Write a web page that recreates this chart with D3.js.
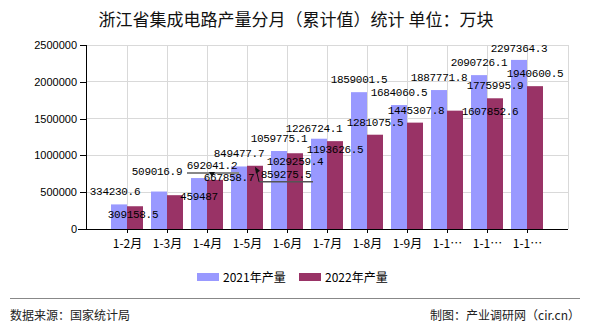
<!DOCTYPE html>
<html><head><meta charset="utf-8">
<script src="https://cdn.jsdelivr.net/npm/d3@7/dist/d3.min.js"></script>
<style>
html,body{margin:0;padding:0;background:#fff;}
svg{display:block;}
</style></head>
<body>
<svg id="chart" width="590" height="330"></svg>
<script>
// ---- data ----
const categories = ["1-2月","1-3月","1-4月","1-5月","1-6月","1-7月","1-8月","1-9月","1-10月","1-11月","1-12月"];
const seriesNames = ["2021年产量","2022年产量"];
const values2021 = [334230.6,509016.9,692041.2,849477.7,1059775.1,1226724.1,1859001.5,1684060.5,1887771.8,2090726.1,2297364.3];
const values2022 = [309158.5,459487,667858.7,859275.5,1029259.4,1193626.5,1281075.5,1445307.8,1607852.6,1775995.9,1940600.5];
const yTicks = [0,500000,1000000,1500000,2000000,2500000];

// ---- layout (label nudges in px, relative to default above-bar position) ----
const nudge2021 = [[-4,0],[-2,-8],[13,0],[0,0],[0,0],[-5,2],[0,0],[0,0],[0,0],[0,0],[0,1]];
const nudge2022 = [[-2,21],[24,14],[14,10],[31,21],[0,21],[0,21],[0,0],[1,0],[35,13],[0,0],[0,0]];
const colors = ["#9999ff","#993366"];

const svg = d3.select("#chart");
const pLeft = 86, pRight = 568, pTop = 45, pBottom = 229;

const x = d3.scalePoint().domain(categories).range([87, 567]).padding(1);
const sub = d3.scaleBand().domain(seriesNames).range([-16, 16]);
const y = d3.scaleLinear().domain([0, 2500000]).range([pBottom, pTop]);

// gridlines
const grid = svg.append("g").attr("stroke","#d9d9d9").attr("stroke-width",1).attr("shape-rendering","crispEdges");
grid.selectAll("line.h").data(yTicks.slice(1)).join("line")
  .attr("x1", pLeft).attr("x2", pRight).attr("y1", d=>y(d)).attr("y2", d=>y(d));
grid.selectAll("line.v").data(categories).join("line")
  .attr("x1", d=>x(d)).attr("x2", d=>x(d)).attr("y1", pTop).attr("y2", pBottom);
grid.append("line").attr("x1", pRight).attr("x2", pRight).attr("y1", pTop).attr("y2", pBottom);

// title
svg.append("text").attr("x",296).attr("y",26).attr("text-anchor","middle")
  .style("font-family","'Noto Sans CJK SC',sans-serif").style("font-size","17px").attr("fill","#111")
  .text("浙江省集成电路产量分月（累计值）统计 单位：万块");

// bars
const series = [values2021, values2022];
series.forEach((vals, si) => {
  svg.append("g").selectAll("rect").data(vals).join("rect")
    .attr("x", (d,i)=>x(categories[i]) + sub(seriesNames[si]))
    .attr("width", sub.bandwidth())
    .attr("y", d=>y(d))
    .attr("height", d=>pBottom - y(d))
    .attr("fill", colors[si]);
});

// axes
const yAxis = svg.append("g").attr("transform",`translate(${pLeft},0)`)
  .call(d3.axisLeft(y).tickValues(yTicks).tickFormat(d3.format("d")).tickSize(6).tickPadding(3));
yAxis.select(".domain").attr("d", `M0,${pTop}V${pBottom}`);
yAxis.selectAll("text").style("font-family","'Liberation Sans',Arial,sans-serif").style("font-size","11px").attr("fill","#000");
yAxis.selectAll("line,path").attr("stroke","#000").attr("shape-rendering","crispEdges");

const xAxis = svg.append("g").attr("transform",`translate(0,${pBottom})`)
  .call(d3.axisBottom(x).tickSize(4).tickPadding(6).tickFormat(d => d.length > 4 ? d.slice(0,3) + "…" : d));
xAxis.select(".domain").attr("d", `M${pLeft-8},0H${pRight}`);
xAxis.selectAll("text").style("font-family","'Noto Sans CJK SC',sans-serif").style("font-size","12px").attr("fill","#000");
xAxis.selectAll("line,path").attr("stroke","#000").attr("shape-rendering","crispEdges");

// value labels
const lblFont = "'Liberation Mono','DejaVu Sans Mono',monospace";
const labelPos = [];
series.forEach((vals, si) => {
  const nudges = si === 0 ? nudge2021 : nudge2022;
  const pos = vals.map((v,i) => ({
    v,
    cx: x(categories[i]) + sub(seriesNames[si]) + sub.bandwidth()/2 + nudges[i][0],
    by: y(v) - 9 + nudges[i][1],
    barX: x(categories[i]) + sub(seriesNames[si]) + sub.bandwidth()/2,
    barY: y(v)
  }));
  labelPos.push(pos);
  svg.append("g").selectAll("text").data(pos).join("text")
    .attr("x", d=>d.cx).attr("y", d=>d.by).attr("text-anchor","middle")
    .style("font-family", lblFont).style("font-size","11px").style("letter-spacing","-0.3px")
    .attr("fill","#000").text(d=>d3.format("")(d.v));
});

// leader lines for displaced labels
(function(){
  const b = labelPos[0][2];
  svg.append("line").attr("x1", b.cx-25).attr("x2", b.cx+27).attr("y1", b.by+4).attr("y2", b.by+4)
    .attr("stroke","#888").attr("stroke-width",2);
  svg.append("path").attr("d", `M${b.cx-3},${b.by+3}L${b.cx+3},${b.by+3}L${b.cx},${b.by+8}Z`).attr("fill","#111");
  const r = labelPos[1][3];
  const lx = r.cx - 27, ly = r.by + 4;
  svg.append("line").attr("x1", lx).attr("x2", r.cx+27).attr("y1", ly).attr("y2", ly)
    .attr("stroke","#555").attr("stroke-width",1.5);
  svg.append("line").attr("x1", lx).attr("y1", ly).attr("x2", r.barX+1).attr("y2", r.barY+3)
    .attr("stroke","#111").attr("stroke-width",1);
  svg.append("path").attr("d", `M${r.barX},${r.barY+1}L${r.barX+5},${r.barY+5}L${r.barX+1},${r.barY+8}Z`).attr("fill","#111");
})();

// legend
const legend = svg.append("g");
const legX = [197, 299];
seriesNames.forEach((s, i) => {
  legend.append("rect").attr("x", legX[i]).attr("y", 273).attr("width", 22).attr("height", 8).attr("fill", colors[i]);
  legend.append("text").attr("x", legX[i] + 26).attr("y", 282)
    .style("font-family","'Noto Sans CJK SC',sans-serif").style("font-size","12px").attr("fill","#000").text(s);
});

// footer
svg.append("line").attr("x1",10).attr("x2",580).attr("y1",298.5).attr("y2",298.5).attr("stroke","#888").attr("stroke-width",1);
svg.append("text").attr("x",10).attr("y",320)
  .style("font-family","'Noto Sans CJK SC',sans-serif").style("font-size","12px").attr("fill","#222")
  .text("数据来源：国家统计局");
svg.append("text").attr("x",580).attr("y",320).attr("text-anchor","end")
  .style("font-family","'Noto Sans CJK SC',sans-serif").style("font-size","12px").attr("fill","#222")
  .text("制图：产业调研网（cir.cn）");
</script>
</body></html>
